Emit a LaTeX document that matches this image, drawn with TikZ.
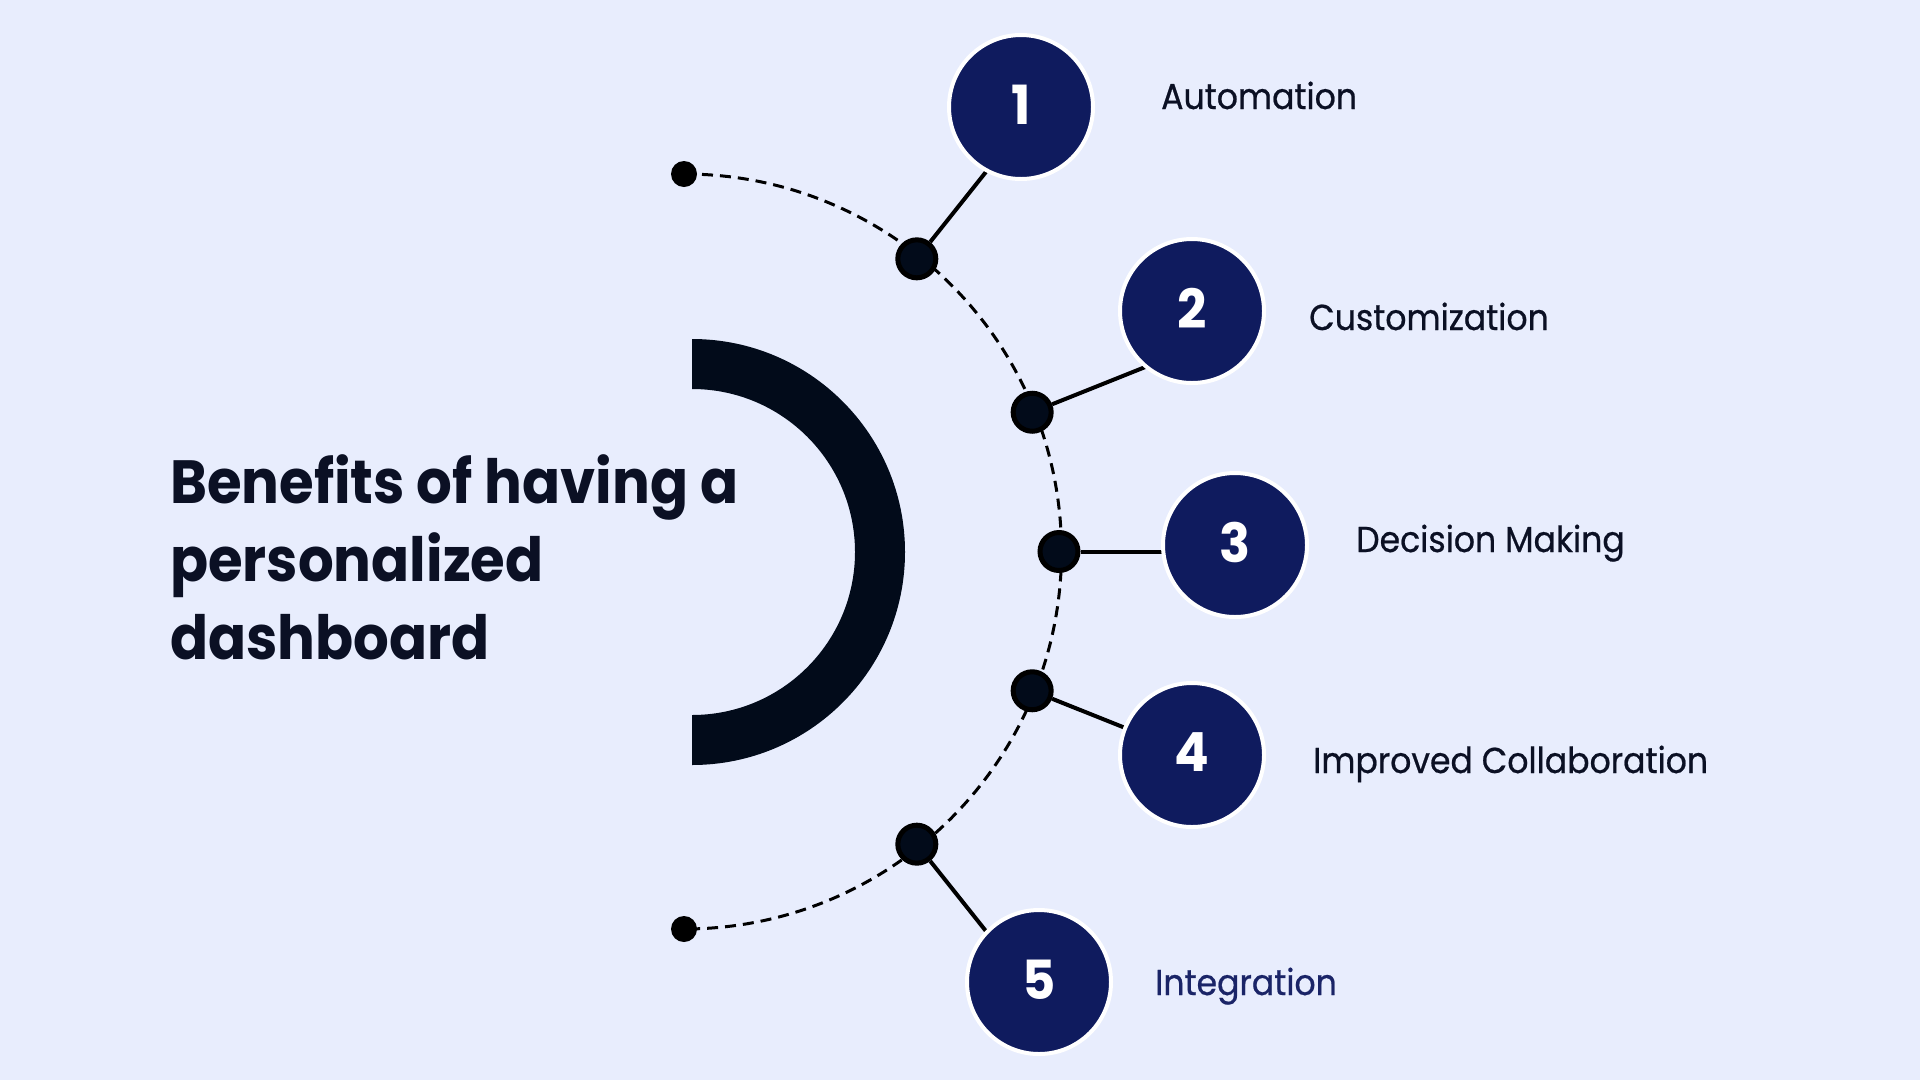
\documentclass[tikz,border=0pt]{standalone}
\usepackage{fontspec}
\setmainfont{Poppins}
\newfontfamily\titlefont{Poppins}[FakeStretch=0.92]
\newfontfamily\numfont{Poppins}[FakeStretch=0.95]
\newfontfamily\lblfont{Poppins}[FakeStretch=0.92,FakeBold=0.6]
\usetikzlibrary{calc}
\definecolor{bgc}{HTML}{E8EDFD}
\definecolor{navy}{HTML}{0F1B5E}
\definecolor{inkc}{HTML}{0B1024}
\definecolor{ringc}{HTML}{020B1A}
\definecolor{intc}{HTML}{1A2467}
\newcommand{\numtxt}[1]{\raisebox{5pt}{#1}}
\tikzset{
  numc/.style={circle, fill=navy, draw=white, line width=4pt, minimum size=144pt, inner sep=0pt,
    text=white, font=\numfont\bfseries\fontsize{54pt}{54pt}\selectfont},
  arcdot/.style={circle, fill=ringc, draw=black, line width=5pt, minimum size=38pt, inner sep=0pt},
  enddot/.style={circle, fill=black, minimum size=26pt, inner sep=0pt},
  conn/.style={draw=black, line width=4pt},
  dasharc/.style={draw=black, line width=3pt, dash pattern=on 11pt off 7pt},
  lbl/.style={anchor=base west, inner sep=0pt, text=inkc, font=\lblfont\fontsize{36pt}{36pt}\selectfont},
  ttl/.style={anchor=base west, inner sep=0pt, text=inkc, font=\titlefont\bfseries\fontsize{61pt}{61pt}\selectfont}
}
\begin{document}
\begin{tikzpicture}[x=1pt,y=-1pt]
\fill[bgc] (0,0) rectangle (1920,1080);
\useasboundingbox (0,0) rectangle (1920,1080);
% thick half ring
\fill[ringc] (692,339) arc[start angle=-90,end angle=90,radius=213] -- (692,715) arc[start angle=90,end angle=-90,radius=163] -- cycle;
% dashed arc
\coordinate (ac) at (684,551.5);
\node[enddot] (e1) at (684,174) {};
\node[enddot] (e2) at (684,929) {};
\draw[dasharc] (e1.center) arc[start angle=-90,end angle=90,radius=377.5];
% dots on arc
\node[arcdot] (d1) at ($(ac)+(-51.5:374)$) {};
\node[arcdot] (d2) at ($(ac)+(-21.8:375)$) {};
\node[arcdot] (d3) at ($(ac)+(0:375)$) {};
\node[arcdot] (d4) at ($(ac)+(21.8:375)$) {};
\node[arcdot] (d5) at ($(ac)+(51.5:374)$) {};
% radial connector ends (hidden under the circles)
\coordinate (k1) at ($(ac)+(-51.5:530)$);
\coordinate (k2) at ($(ac)+(-21.8:530)$);
\coordinate (k3) at ($(ac)+(0:530)$);
\coordinate (k4) at ($(ac)+(21.8:530)$);
\coordinate (k5) at ($(ac)+(51.5:530)$);
\draw[conn] (d1) -- (k1);
\draw[conn] (d2) -- (k2);
\draw[conn] (d3) -- (k3);
\draw[conn] (d4) -- (k4);
\draw[conn] (d5) -- (k5);
% numbered circles
\node[numc] (n1) at (1021,107) {\numtxt{1}};
\node[numc] (n2) at (1192,311) {\numtxt{2}};
\node[numc] (n3) at (1235,545) {\numtxt{3}};
\node[numc] (n4) at (1192,755) {\numtxt{4}};
\node[numc] (n5) at (1039,982) {\numtxt{5}};
% labels
\node[lbl] (t1) at (1161,109) {Automation};
\node[lbl] (t2) at (1309,330) {Customization};
\node[lbl] (t3) at (1356,552) {Decision Making};
\node[lbl] (t4) at (1313,773) {Improved Collaboration};
\node[lbl, text=intc] (t5) at (1155,995) {Integration};
% title
\node[ttl] (h1) at (170,503) {Benefits of having a};
\node[ttl] (h2) at (170,581) {personalized};
\node[ttl] (h3) at (170,659) {dashboard};
\end{tikzpicture}
\end{document}
